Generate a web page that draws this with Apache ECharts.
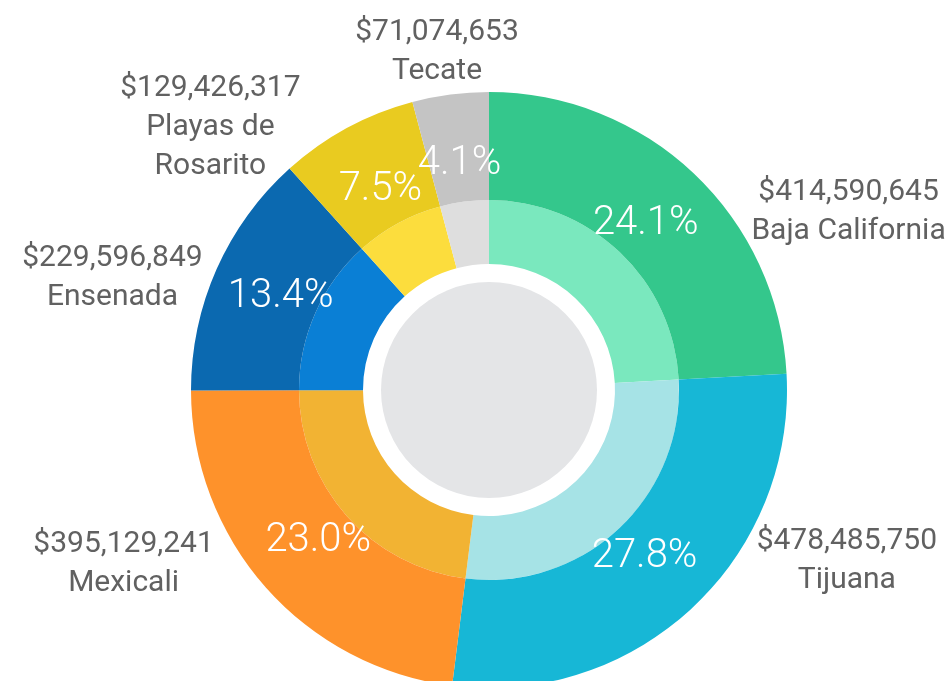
<!DOCTYPE html>
<html>
<head>
<meta charset="utf-8">
<script src="https://cdn.jsdelivr.net/npm/echarts@6/dist/echarts.min.js"></script>
<style>
  html, body { margin: 0; padding: 0; background: #fff; }
  #chart { width: 951px; height: 681px; }
</style>
</head>
<body>
<div id="chart"></div>
<script>
// datos
var municipios = ['Baja California', 'Tijuana', 'Mexicali', 'Ensenada', 'Playas de\nRosarito', 'Tecate'];
var montos = [414590645, 478485750, 395129241, 229596849, 129426317, 71074653];

// colores (anillo exterior / interior)
var colorExterior = ['#34C78C', '#17B7D6', '#FE922B', '#0B69B0', '#E9CB20', '#C4C4C4'];
var colorInterior = ['#7AE8BE', '#A6E3E6', '#F2B333', '#0A7FD5', '#FCDD3D', '#DEDEDE'];

// ubicacion de etiquetas (largo de la linea guia, oculta)
var guiaLargo = [55, 44, 72, 85, 109, 151];
var guiaLargo2 = [89, 103, 74, 30, 41, -79];

var total = montos.reduce(function (a, b) { return a + b }, 0);
var gris = '#616161';
var fuente = 'Roboto, "Noto Sans", sans-serif';

function miles(n) {
  return String(n).replace(/\B(?=(\d{3})+(?!\d))/g, ',');
}

function etiqueta(p) {
  var lineas = ['{v|$' + miles(p.value) + '}'];
  p.name.split('\n').forEach(function (t) { lineas.push('{n|' + t + '}') });
  return lineas.join('\n');
}

var centro = [489, 390];

var option = {
  animation: false,
  series: [
    {
      // circulo gris del centro
      type: 'pie',
      center: centro,
      radius: [0, 108],
      silent: true,
      label: { show: false },
      labelLine: { show: false },
      itemStyle: { color: '#E4E5E7', borderWidth: 0 },
      data: [{ value: 1, name: '' }]
    },
    {
      // anillo interior + montos y nombres
      type: 'pie',
      center: centro,
      radius: [126, 190],
      silent: true,
      avoidLabelOverlap: false,
      itemStyle: { borderWidth: 0 },
      label: {
        show: true,
        position: 'outside',
        formatter: etiqueta,
        rich: {
          v: { fontSize: 30, lineHeight: 39, color: gris, align: 'center', fontFamily: fuente },
          n: { fontSize: 30, lineHeight: 39, color: gris, align: 'center', fontFamily: fuente }
        }
      },
      labelLine: { show: false },
      data: montos.map(function (v, i) {
        return {
          value: v,
          name: municipios[i],
          itemStyle: { color: colorInterior[i] },
          labelLine: { show: false, length: guiaLargo[i], length2: guiaLargo2[i] }
        };
      })
    },
    {
      // anillo exterior
      type: 'pie',
      center: centro,
      radius: [190, 298],
      silent: true,
      itemStyle: { borderWidth: 0 },
      label: { show: false },
      labelLine: { show: false },
      data: montos.map(function (v, i) {
        return { value: v, name: municipios[i], itemStyle: { color: colorExterior[i] } };
      })
    },
    {
      // porcentajes, centrados sobre el radio 228
      type: 'pie',
      center: centro,
      radius: [0, 228],
      silent: true,
      z: 10,
      avoidLabelOverlap: false,
      itemStyle: { color: 'rgba(0,0,0,0)', borderWidth: 0 },
      label: {
        show: true,
        position: 'outside',
        distanceToLabelLine: 0,
        color: '#fff',
        fontSize: 40,
        fontWeight: 300,
        fontFamily: fuente,
        formatter: function (p) {
          return (p.value / total * 100).toFixed(1) + '%';
        }
      },
      labelLine: { show: false, length: 0, length2: 0 },
      labelLayout: function () {
        return { align: 'center', verticalAlign: 'middle' };
      },
      data: montos.map(function (v, i) {
        return { value: v, name: municipios[i] };
      })
    }
  ]
};

var chart = echarts.init(document.getElementById('chart'));
chart.setOption(option);
</script>
</body>
</html>
